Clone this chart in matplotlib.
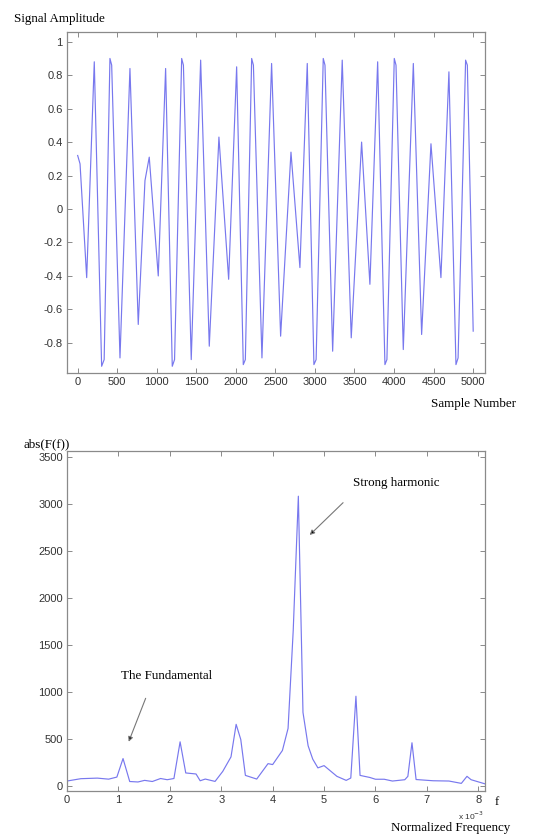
# Signal and its spectrum
import matplotlib
matplotlib.use("Agg")
import matplotlib.pyplot as plt

# time signal: sample number and amplitude
samples = [0, 30, 114, 210, 303, 335, 408, 430, 535, 661, 766, 851, 905, 1019,
           1112, 1196, 1225, 1315, 1337, 1436, 1555, 1664, 1786, 1909,
           2010, 2094, 2120, 2200, 2222, 2330, 2452, 2566, 2697, 2810,
           2903, 2987, 3015, 3105, 3127, 3224, 3345, 3459, 3590, 3695,
           3793, 3885, 3910, 4003, 4025, 4117, 4244, 4349, 4467, 4593,
           4694, 4783, 4810, 4905, 4927, 5001]
amplitude = [0.32, 0.27, -0.41, 0.88, -0.94, -0.90, 0.90, 0.86, -0.89, 0.84, -0.69, 0.17, 0.31, -0.40,
             0.84, -0.94, -0.90, 0.90, 0.86, -0.90, 0.89, -0.82, 0.43, -0.42,
             0.85, -0.93, -0.90, 0.90, 0.86, -0.89, 0.87, -0.76, 0.34, -0.35,
             0.87, -0.93, -0.90, 0.90, 0.86, -0.85, 0.89, -0.77, 0.40, -0.45,
             0.88, -0.93, -0.90, 0.90, 0.86, -0.84, 0.87, -0.75, 0.39, -0.41,
             0.82, -0.93, -0.89, 0.89, 0.86, -0.73]

# spectrum: normalized frequency (x 10^-3) and magnitude
freq = [0, 0.27, 0.59, 0.81, 0.97, 1.09, 1.22, 1.38, 1.51, 1.66, 1.82, 1.95, 2.08, 2.20,
        2.31, 2.51, 2.59, 2.69, 2.88, 3.03, 3.19, 3.29, 3.38, 3.47, 3.69, 3.91, 4.00,
        4.19, 4.30, 4.40, 4.50, 4.59, 4.69, 4.78, 4.88, 5.00, 5.25, 5.43, 5.52, 5.62,
        5.70, 5.89, 6.00, 6.17, 6.33, 6.57, 6.63, 6.71, 6.79, 7.12, 7.43, 7.67, 7.78,
        7.86, 8.13]
magnitude = [50, 75, 81, 70, 92, 289, 45, 40, 57, 45, 77, 64, 77, 467,
             136, 125, 53, 71, 46, 153, 307, 653, 492, 110, 71, 235, 225,
             375, 610, 1650, 3080, 780, 425, 283, 190, 214, 100, 57, 82, 952,
             110, 88, 69, 69, 50, 64, 100, 457, 66, 53, 50, 25, 100,
             64, 20]

line_color = "#7878ee"
frame_color = "#8a8a8a"
serif = "Liberation Serif"
sans = "Liberation Sans"
fs = 9.4

fig = plt.figure(figsize=(5.42, 8.34), dpi=100)
ax1 = fig.add_axes([0.1236, 0.5528, 0.7712, 0.4088])
ax2 = fig.add_axes([0.1236, 0.0519, 0.7712, 0.4077])


def style(ax):
    for s in ax.spines.values():
        s.set_color(frame_color)
        s.set_linewidth(0.9)
    ax.tick_params(direction="in", top=True, right=True, length=3.5,
                   width=0.7, color=frame_color, labelsize=8,
                   labelcolor="#333333", pad=3)
    for lab in ax.get_xticklabels() + ax.get_yticklabels():
        lab.set_family(sans)


# top panel
ax1.plot(samples, amplitude, color=line_color, lw=0.85)
ax1.set_xlim(-135, 5150)
ax1.set_ylim(-0.98, 1.058)
ax1.set_xticks(range(0, 5001, 500))
yt = [-0.8, -0.6, -0.4, -0.2, 0, 0.2, 0.4, 0.6, 0.8, 1]
ax1.set_yticks(yt)
ax1.set_yticklabels(["-0.8", "-0.6", "-0.4", "-0.2", "0", "0.2", "0.4", "0.6", "0.8", "1"])
style(ax1)

fig.text(14 / 542, 1 - 19 / 834, "Signal Amplitude", family=serif, fontsize=fs,
         va="center", ha="left")
fig.text(516 / 542, 1 - 404 / 834, "Sample Number", family=serif, fontsize=fs,
         va="center", ha="right")

# bottom panel
ax2.plot(freq, magnitude, color=line_color, lw=0.85)
ax2.set_xlim(0, 8.13)
ax2.set_ylim(-53, 3564)
ax2.set_xticks(range(0, 9))
ax2.set_yticks(range(0, 3501, 500))
style(ax2)

ax2.text(5.56, 3224, "Strong harmonic", family=serif, fontsize=fs, va="center")
ax2.annotate("", xy=(4.72, 2667), xytext=(5.37, 3011),
             arrowprops=dict(arrowstyle="-|>", fc="black", ec="#777777",
                             lw=0.8, mutation_scale=7, shrinkA=0, shrinkB=0))
ax2.text(1.05, 1167, "The Fundamental", family=serif, fontsize=fs, va="center")
ax2.annotate("", xy=(1.20, 468), xytext=(1.53, 930),
             arrowprops=dict(arrowstyle="-|>", fc="black", ec="#777777",
                             lw=0.8, mutation_scale=7, shrinkA=0, shrinkB=0))

fig.text(23 / 542, 1 - 444 / 834, "abs(F(f))", family=serif, fontsize=fs,
         va="center", ha="left")
fig.text(497 / 542, 1 - 802 / 834, "f", family=serif, fontsize=fs,
         va="center", ha="center")
fig.text(471 / 542, 1 - 816 / 834, r"x 10$^{-3}$", family=sans, fontsize=6,
         va="center", ha="center", color="#333333")
fig.text(510 / 542, 1 - 828 / 834, "Normalized Frequency", family=serif,
         fontsize=fs, va="center", ha="right")

fig.savefig("out.png", dpi=100, facecolor="white")
